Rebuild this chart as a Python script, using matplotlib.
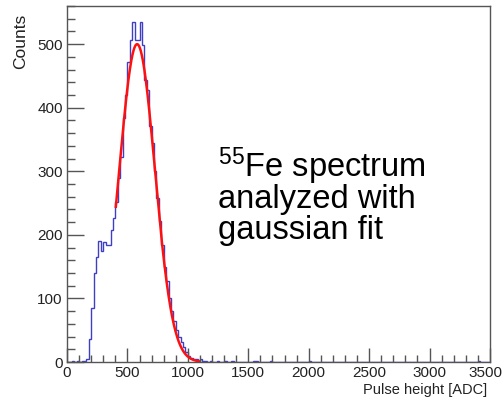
import numpy as np
import matplotlib.pyplot as plt
from matplotlib.ticker import MultipleLocator, FuncFormatter

plt.rcParams['mathtext.fontset'] = 'custom'
plt.rcParams['mathtext.rm'] = 'Liberation Sans'

# histogram: 20 ADC bins, counts for 0..1200 ADC
bin_width = 20
counts_low = [
    0, 0, 1, 0, 1, 0, 1, 2, 5, 36,
    85, 140, 165, 190, 175, 188, 184, 184, 207, 226,
    252, 290, 323, 384, 420, 472, 507, 535, 507, 507,
    535, 499, 444, 428, 372, 345, 300, 258, 222, 184,
    150, 128, 100, 80, 64, 50, 40, 31, 24, 16,
    9, 6, 5, 4, 2, 4, 1, 2, 0, 1,
]
# isolated entries further out
stray_adc = [1240, 1300, 1360, 1540, 1560, 1680, 2000, 3400]
stray_counts = [1, 1, 1, 1, 1, 1, 1, 1]

# gaussian fit result
fit_amp = 500.0
fit_mean = 580.0
fit_sigma = 147.0
fit_range = (404, 1090)

x_max = 3500

edges = np.arange(0, x_max + bin_width, bin_width)
counts = np.zeros(len(edges) - 1)
counts[:len(counts_low)] = counts_low
for a, c in zip(stray_adc, stray_counts):
    counts[a // bin_width] += c

fig = plt.figure(figsize=(5.04, 4.03), dpi=100)
ax = fig.add_axes([67 / 504, 41 / 403, 423 / 504, 356 / 403])

ax.stairs(counts, edges, color='#3f3fc4', lw=1.0, baseline=0)

xf = np.linspace(fit_range[0], fit_range[1], 300)
yf = fit_amp * np.exp(-0.5 * ((xf - fit_mean) / fit_sigma) ** 2)
ax.plot(xf, yf, color='#ff1010', lw=1.8)

ax.set_xlim(0, x_max)
ax.set_ylim(0, 560)
ax.xaxis.set_major_locator(MultipleLocator(500))
ax.xaxis.set_minor_locator(MultipleLocator(100))
ax.yaxis.set_major_locator(MultipleLocator(100))
ax.yaxis.set_minor_locator(MultipleLocator(20))
# last x label is drawn separately so it stays inside the figure
ax.xaxis.set_major_formatter(FuncFormatter(lambda v, p: '' if v >= x_max else f'{v:.0f}'))

frame_col = '#555555'
for s in ax.spines.values():
    s.set_color(frame_col)
    s.set_linewidth(1.0)
ax.tick_params(axis='both', which='both', direction='in', color=frame_col,
               width=1.0, labelsize=11, pad=3, labelcolor='#222222',
               labelfontfamily='Liberation Sans')
ax.tick_params(axis='x', which='major', length=10)
ax.tick_params(axis='x', which='minor', length=5)
ax.tick_params(axis='y', which='major', length=12)
ax.tick_params(axis='y', which='minor', length=6)

W, H = 504, 403
fig.text(502 / W, 1 - 373 / H, f'{x_max}', ha='right', va='center',
         fontsize=11, family='Liberation Sans', color='#222222')
fig.text(21 / W, 1 - 41.5 / H, 'Counts', rotation=90, ha='center', va='center',
         fontsize=12.5, family='Liberation Sans', color='#222222')
fig.text(487 / W, 1 - 390 / H, 'Pulse height [ADC]', ha='right', va='center',
         fontsize=10.5, family='Liberation Sans', color='#222222')

note = [r'$\mathregular{^{55}}$Fe spectrum', 'analyzed with', 'gaussian fit']
for i, line in enumerate(note):
    fig.text(218 / W, 1 - (177 + 31 * i) / H, line, ha='left', va='baseline',
             fontsize=23.5, family='Liberation Sans', color='black')

fig.savefig('out.png', dpi=100)
